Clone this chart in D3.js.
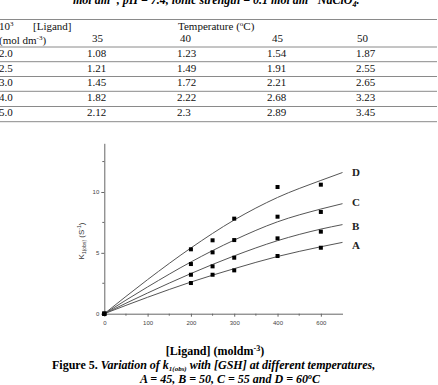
<!DOCTYPE html>
<html>
<head>
<meta charset="utf-8">
<script src="https://cdn.jsdelivr.net/npm/d3@7"></script>
<style>
  body { margin: 0; background: #fff; }
  svg { display: block; }
</style>
</head>
<body>
<div class="content"></div>
<script>
// table data
var tableTemps = ['35', '40', '45', '50'];
var tableLigand = ['2.0', '2.5', '3.0', '4.0', '5.0'];
var tableK35 = ['1.08', '1.21', '1.45', '1.82', '2.12'];
var tableK40 = ['1.23', '1.49', '1.72', '2.22', '2.3'];
var tableK45 = ['1.54', '1.91', '2.21', '2.68', '2.89'];
var tableK50 = ['1.87', '2.55', '2.65', '3.23', '3.45'];

// chart data
var ligand = [0, 200, 250, 300, 400, 500];
var kA = [0, 2.52, 3.2, 3.56, 4.74, 5.42];
var kB = [0, 3.2, 3.89, 4.6, 6.19, 6.74];
var kC = [0, 4.08, 5.04, 6.05, 7.97, 8.36];
var kD = [0, 5.29, 6.03, 7.81, 10.41, 10.6];

// fitted curves
var fitX = [0, 100, 200, 300, 400, 500, 550];
var fitA = [0, 1.35, 2.6, 3.7, 4.7, 5.5, 5.86];
var fitB = [0, 1.7, 3.3, 4.75, 6.0, 6.95, 7.32];
var fitC = [0, 2.2, 4.25, 6.05, 7.55, 8.6, 9.04];
var fitD = [0, 2.8, 5.4, 7.7, 9.55, 10.95, 11.6];

var seriesNames = ['A', 'B', 'C', 'D'];
var xTickVals = [0, 100, 200, 300, 400, 500];
var xTickLabels = ['0', '100', '200', '300', '400', '600'];
var yTickVals = [0, 5, 10];

var W = 438, H = 385;
var svg = d3.select('.content').append('svg')
    .attr('width', W)
    .attr('height', H);

var serif = '"Liberation Serif", "Times New Roman", serif';
var sans = '"Liberation Sans", Arial, sans-serif';

// ---- clipped title line at the very top
var title = svg.append('text')
    .attr('x', 73).attr('y', 4)
    .style('font-family', serif)
    .style('font-size', '12px')
    .style('font-weight', 'bold')
    .style('font-style', 'italic');
title.append('tspan').text('mol dm');
title.append('tspan').attr('dy', -4).style('font-size', '8px').text('-3');
title.append('tspan').attr('dy', 4).text(', pH = 7.4, ionic strength = 0.1 mol dm');
title.append('tspan').attr('dy', -4).style('font-size', '8px').text('-3');
title.append('tspan').attr('dy', 4).text(' NaClO');
title.append('tspan').attr('dy', 3).style('font-size', '8px').text('4');
title.append('tspan').attr('dy', -3).text('.');

// ---- table
var tbl = svg.append('g')
    .style('font-family', serif)
    .style('font-size', '11px')
    .style('fill', '#111');

var colX = [87, 177, 267, 356];
var headX = [92, 180, 272, 357];
var rowBase = [57.3, 71.8, 86.3, 100.8, 115.6];
var ruleY = [19.5, 47, 61.7, 76.5, 91.3, 106.5, 121.7];

tbl.selectAll('line.rule').data(ruleY).enter().append('line')
    .attr('class', 'rule')
    .attr('x1', 0).attr('x2', 437)
    .attr('y1', function(d) { return d; })
    .attr('y2', function(d) { return d; })
    .style('stroke', '#8a8a8a')
    .style('stroke-width', 1);

var h1 = tbl.append('text').attr('x', -1).attr('y', 30);
h1.append('tspan').text('10');
h1.append('tspan').attr('dy', -4).style('font-size', '7px').text('3');
h1.append('tspan').attr('dy', 4).attr('x', 33).text('[Ligand]');

var h2 = tbl.append('text').attr('x', -1).attr('y', 43.5);
h2.append('tspan').text('(mol dm');
h2.append('tspan').attr('dy', -4).style('font-size', '7px').text('-3');
h2.append('tspan').attr('dy', 4).text(')');

var h3 = tbl.append('text').attr('x', 178).attr('y', 30);
h3.append('tspan').text('Temperature (');
h3.append('tspan').attr('dy', -4).style('font-size', '7px').text('o');
h3.append('tspan').attr('dy', 4).text('C)');

tbl.selectAll('text.temp').data(tableTemps).enter().append('text')
    .attr('class', 'temp')
    .attr('x', function(d, i) { return headX[i]; })
    .attr('y', 42.3)
    .text(function(d) { return d; });

var cols = [tableK35, tableK40, tableK45, tableK50];
tableLigand.forEach(function(lg, r) {
    tbl.append('text').attr('x', -1).attr('y', rowBase[r]).text(lg);
    cols.forEach(function(col, c) {
        tbl.append('text').attr('x', colX[c]).attr('y', rowBase[r]).text(col[r]);
    });
});

// ---- chart
var x = d3.scaleLinear().domain([0, 550]).range([104.3, 342.5]);
var y = d3.scaleLinear().domain([0, 14]).range([313.7, 143.3]);
var axisCol = '#666';

var xAxis = svg.append('g')
    .attr('transform', 'translate(0,' + y(0) + ')')
    .call(d3.axisBottom(x).tickValues(xTickVals)
        .tickFormat(function(d, i) { return xTickLabels[i]; })
        .tickSize(3).tickSizeOuter(0));
xAxis.append('g').selectAll('line').data(d3.range(50, 550, 100)).enter().append('line')
    .attr('x1', function(d) { return x(d); })
    .attr('x2', function(d) { return x(d); })
    .attr('y1', 0).attr('y2', 2);

var yAxis = svg.append('g')
    .attr('transform', 'translate(' + x(0) + ',0)')
    .call(d3.axisLeft(y).tickValues(yTickVals).tickSize(3).tickSizeOuter(0));
yAxis.append('g').selectAll('line').data([2.5, 7.5, 12.5]).enter().append('line')
    .attr('y1', function(d) { return y(d); })
    .attr('y2', function(d) { return y(d); })
    .attr('x1', 0).attr('x2', -2);

[xAxis, yAxis].forEach(function(a) {
    a.selectAll('path, line').style('stroke', axisCol).style('stroke-width', 1);
    a.selectAll('text')
        .style('font-family', sans)
        .style('font-size', '6px')
        .style('fill', '#444');
});
xAxis.selectAll('.tick text').attr('dy', '0.95em');
yAxis.selectAll('.tick text').attr('x', -5);

// y label
var yl = svg.append('text')
    .attr('transform', 'translate(84,241) rotate(-90)')
    .attr('text-anchor', 'middle')
    .style('font-family', sans)
    .style('font-size', '8px')
    .style('fill', '#333');
yl.append('tspan').text('K');
yl.append('tspan').attr('dy', 2).style('font-size', '5px').text('1(obs)');
yl.append('tspan').attr('dy', -2).text(' (S');
yl.append('tspan').attr('dy', -3).style('font-size', '5px').text('-1');
yl.append('tspan').attr('dy', 3).text(')');

var fits = [fitA, fitB, fitC, fitD];
var pts = [kA, kB, kC, kD];
var line = d3.line()
    .x(function(d) { return x(d[0]); })
    .y(function(d) { return y(d[1]); })
    .curve(d3.curveMonotoneX);

fits.forEach(function(f) {
    svg.append('path')
        .attr('d', line(fitX.map(function(v, i) { return [v, f[i]]; })))
        .style('fill', 'none')
        .style('stroke', '#555')
        .style('stroke-width', 1);
});

pts.forEach(function(s) {
    svg.append('g').selectAll('rect').data(ligand).enter().append('rect')
        .attr('x', function(d) { return x(d) - 2; })
        .attr('y', function(d, i) { return y(s[i]) - 2; })
        .attr('width', 4).attr('height', 4)
        .style('fill', '#000');
});

// series labels at the curve ends
var labelY = [245, 226, 202, 172.5];
svg.selectAll('text.series').data(seriesNames).enter().append('text')
    .attr('class', 'series')
    .attr('x', 352)
    .attr('y', function(d, i) { return labelY[i]; })
    .attr('dy', '0.35em')
    .style('font-family', serif)
    .style('font-size', '11px')
    .style('font-weight', 'bold')
    .style('fill', '#222')
    .text(function(d) { return d; });

// ---- caption
var cap = svg.append('g')
    .style('font-family', serif)
    .style('font-size', '12px')
    .style('font-weight', 'bold')
    .style('fill', '#000');

var c1 = cap.append('text').attr('x', 215).attr('y', 355).attr('text-anchor', 'middle');
c1.append('tspan').text('[Ligand] (moldm');
c1.append('tspan').attr('dy', -4).style('font-size', '8px').text('-3');
c1.append('tspan').attr('dy', 4).text(')');

var c2 = cap.append('text').attr('x', 52).attr('y', 369);
c2.append('tspan').text('Figure 5. ');
c2.append('tspan').style('font-style', 'italic').text('Variation of k');
c2.append('tspan').attr('dy', 2).style('font-style', 'italic').style('font-size', '7px').text('1(obs)');
c2.append('tspan').attr('dy', -2).style('font-style', 'italic').text(' with [GSH] at different temperatures,');

var c3 = cap.append('text').attr('x', 230).attr('y', 383).attr('text-anchor', 'middle')
    .style('font-style', 'italic');
c3.append('tspan').text('A = 45, B = 50, C = 55 and D = 60');
c3.append('tspan').attr('dy', -4).style('font-size', '8px').text('o');
c3.append('tspan').attr('dy', 4).text('C');
</script>
</body>
</html>
